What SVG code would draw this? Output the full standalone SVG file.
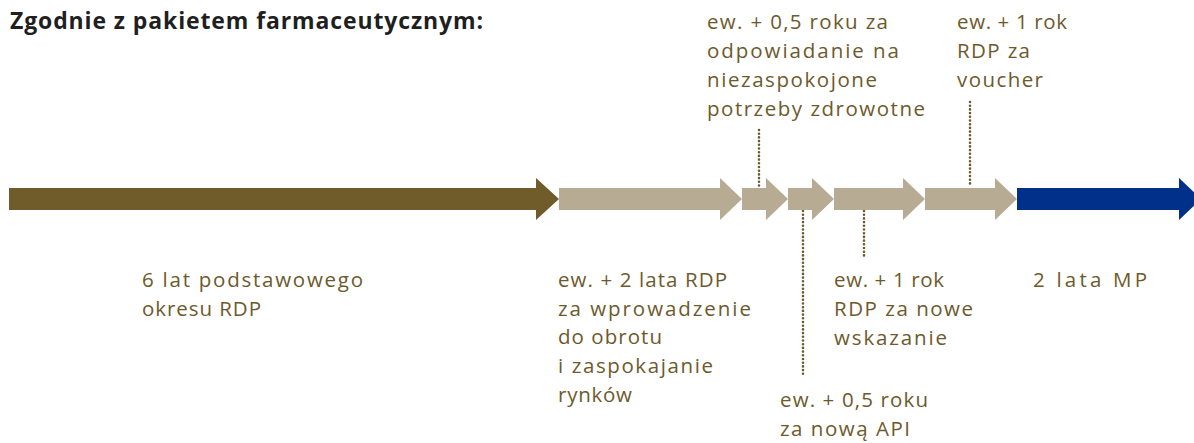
<svg xmlns="http://www.w3.org/2000/svg" width="1194" height="443" viewBox="0 0 1194 443">
  <style>
    .t { font-family: "Open Sans", Lato, "Liberation Sans", sans-serif; font-size: 20.5px; fill: #6d5a2c; }
    .title { font-family: "Open Sans", Lato, "Liberation Sans", sans-serif; font-size: 23px; font-weight: 700; fill: #1f1f1f; }
    .brown { fill: #705b2b; }
    .light { fill: #b8ab94; }
    .blue { fill: #00308a; }
    .dot { stroke: #6d5a2c; stroke-width: 2.6; stroke-linecap: round; stroke-dasharray: 0 3.7; fill: none; }
  </style>
  <rect width="1194" height="443" fill="#ffffff"/>

  <text class="title" x="10" y="29" textLength="473" lengthAdjust="spacing">Zgodnie z pakietem farmaceutycznym:</text>

  <g id="connectors">
    <line class="dot" x1="759" y1="130" x2="759" y2="187"/>
    <line class="dot" x1="970" y1="102" x2="970" y2="187"/>
    <line class="dot" x1="803" y1="211" x2="803" y2="377"/>
    <line class="dot" x1="864" y1="211" x2="864" y2="258"/>
  </g>

  <g id="node-base">
    <path class="brown" d="M9,188 H536 V178 L559,199 L536,220 V210 H9 Z"/>
    <text class="t" x="142" y="287" textLength="221" lengthAdjust="spacing">6 lat podstawowego</text>
    <text class="t" x="142" y="316" textLength="119" lengthAdjust="spacing">okresu RDP</text>
  </g>

  <g id="node-market">
    <path class="light" d="M559,188 H720 V178 L742,199 L720,220 V210 H559 Z"/>
    <text class="t" x="558" y="287" textLength="169" lengthAdjust="spacing">ew. + 2 lata RDP</text>
    <text class="t" x="558" y="316" textLength="193" lengthAdjust="spacing">za wprowadzenie</text>
    <text class="t" x="558" y="344" textLength="104" lengthAdjust="spacing">do obrotu</text>
    <text class="t" x="558" y="373" textLength="155" lengthAdjust="spacing">i zaspokajanie</text>
    <text class="t" x="558" y="402" textLength="74" lengthAdjust="spacing">rynków</text>
  </g>

  <g id="node-unmet">
    <path class="light" d="M742,188 H766 V178 L788,199 L766,220 V210 H742 Z"/>
    <text class="t" x="707" y="29" textLength="181" lengthAdjust="spacing">ew. + 0,5 roku za</text>
    <text class="t" x="707" y="58" textLength="192" lengthAdjust="spacing">odpowiadanie na</text>
    <text class="t" x="707" y="87" textLength="170" lengthAdjust="spacing">niezaspokojone</text>
    <text class="t" x="707" y="116" textLength="218" lengthAdjust="spacing">potrzeby zdrowotne</text>
  </g>

  <g id="node-api">
    <path class="light" d="M788,188 H812 V178 L834,199 L812,220 V210 H788 Z"/>
    <text class="t" x="780" y="407" textLength="148" lengthAdjust="spacing">ew. + 0,5 roku</text>
    <text class="t" x="780" y="436" textLength="130" lengthAdjust="spacing">za nową API</text>
  </g>

  <g id="node-indication">
    <path class="light" d="M834,188 H903 V178 L925,199 L903,220 V210 H834 Z"/>
    <text class="t" x="834" y="287" textLength="110" lengthAdjust="spacing">ew. + 1 rok</text>
    <text class="t" x="834" y="316" textLength="139" lengthAdjust="spacing">RDP za nowe</text>
    <text class="t" x="834" y="345" textLength="113" lengthAdjust="spacing">wskazanie</text>
  </g>

  <g id="node-voucher">
    <path class="light" d="M925,188 H995 V178 L1017,199 L995,220 V210 H925 Z"/>
    <text class="t" x="957" y="29" textLength="110" lengthAdjust="spacing">ew. + 1 rok</text>
    <text class="t" x="957" y="58" textLength="73" lengthAdjust="spacing">RDP za</text>
    <text class="t" x="957" y="87" textLength="86" lengthAdjust="spacing">voucher</text>
  </g>

  <g id="node-mp">
    <path class="blue" d="M1017,188 H1179 V178 L1201,199 L1179,220 V210 H1017 Z"/>
    <text class="t" x="1033" y="287" textLength="114" lengthAdjust="spacing">2 lata MP</text>
  </g>
</svg>
